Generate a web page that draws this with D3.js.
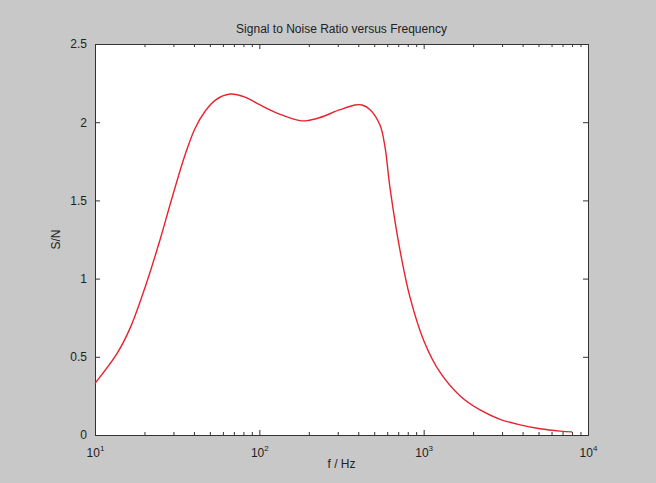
<!DOCTYPE html>
<html>
<head>
<meta charset="utf-8">
<script src="https://cdn.jsdelivr.net/npm/d3@7"></script>
<style>
  html, body { margin: 0; padding: 0; background: #c8c8c8; }
  svg { display: block; font-family: "Liberation Sans", Arial, sans-serif; }
  .axis path { stroke: #333; }
  .axis line { stroke: #333; }
  .axis text { fill: #222; font-size: 12px; }
</style>
</head>
<body>
<div id="chart"></div>
<script>
const WIDTH = 656;
const HEIGHT = 483;
const MARGIN = { top: 44, right: 68, bottom: 48, left: 95 };

// frequency (Hz) and S/N
const freq = [10, 13.6, 16.3, 20.7, 24.9, 29.5, 35.3, 40.6, 46.8, 53.8, 66.4, 81.9, 101, 134, 177, 195, 234, 310, 382, 422, 472, 543, 582, 624, 718, 826, 1005, 1259, 1667, 2205, 2917, 3863, 5108, 6760, 8000];
const snr = [0.33, 0.52, 0.68, 0.98, 1.25, 1.52, 1.79, 1.96, 2.07, 2.14, 2.18, 2.16, 2.11, 2.05, 2.01, 2.01, 2.03, 2.08, 2.11, 2.11, 2.08, 1.98, 1.84, 1.58, 1.18, 0.88, 0.60, 0.40, 0.25, 0.16, 0.10, 0.065, 0.04, 0.025, 0.02];
const yTicks = [0, 0.5, 1, 1.5, 2, 2.5];
const decades = [10, 100, 1000, 10000];

const title = "Signal to Noise Ratio versus Frequency";
const xLabel = "f / Hz";
const yLabel = "S/N";

const svg = d3.select("#chart")
    .append("svg")
    .attr("width", WIDTH)
    .attr("height", HEIGHT);

const x = d3.scaleLog()
    .domain([10, 10000])
    .range([MARGIN.left, WIDTH - MARGIN.right]);

const y = d3.scaleLinear()
    .domain([0, 2.5])
    .range([HEIGHT - MARGIN.bottom, MARGIN.top]);

const minorTicks = [];
decades.slice(0, -1).forEach(d => {
    for (let k = 2; k <= 9; k++) minorTicks.push(d * k);
});

// plot area
svg.append("rect")
    .attr("x", x.range()[0])
    .attr("y", y.range()[1])
    .attr("width", x.range()[1] - x.range()[0])
    .attr("height", y.range()[0] - y.range()[1])
    .attr("fill", "#fff");

const bottom = HEIGHT - MARGIN.bottom;
const right = WIDTH - MARGIN.right;

// minor ticks, bottom and top
svg.append("g").attr("class", "axis")
    .attr("transform", `translate(0,${bottom})`)
    .call(d3.axisBottom(x).tickValues(minorTicks).tickSize(-3).tickFormat(""))
    .call(g => g.select(".domain").remove());
svg.append("g").attr("class", "axis")
    .attr("transform", `translate(0,${MARGIN.top})`)
    .call(d3.axisTop(x).tickValues(minorTicks).tickSize(-3).tickFormat(""))
    .call(g => g.select(".domain").remove());

// major ticks
const xAxis = svg.append("g").attr("class", "axis")
    .attr("transform", `translate(0,${bottom})`)
    .call(d3.axisBottom(x).tickValues(decades).tickSize(-5).tickFormat(""));
xAxis.selectAll(".tick").append("text")
    .attr("y", 22)
    .attr("text-anchor", "middle")
    .attr("fill", "#222")
    .style("font-size", "12px")
    .each(function(d) {
        const t = d3.select(this);
        t.append("tspan").text("10");
        t.append("tspan")
            .attr("dy", -6)
            .style("font-size", "8px")
            .text(Math.round(Math.log10(d)));
    });

svg.append("g").attr("class", "axis")
    .attr("transform", `translate(0,${MARGIN.top})`)
    .call(d3.axisTop(x).tickValues(decades).tickSize(-5).tickFormat(""));

svg.append("g").attr("class", "axis")
    .attr("transform", `translate(${MARGIN.left},0)`)
    .call(d3.axisLeft(y).tickValues(yTicks).tickSize(-5).tickPadding(8).tickFormat(d3.format("")));

svg.append("g").attr("class", "axis")
    .attr("transform", `translate(${right},0)`)
    .call(d3.axisRight(y).tickValues(yTicks).tickSize(-5).tickFormat(""));

// curve
const line = d3.line()
    .x((d, i) => x(freq[i]))
    .y(d => y(d))
    .curve(d3.curveCatmullRom.alpha(0.5));

svg.append("path")
    .datum(snr)
    .attr("fill", "none")
    .attr("stroke", "#e8222e")
    .attr("stroke-width", 1.4)
    .attr("d", line);

// texts
svg.append("text")
    .attr("x", (MARGIN.left + right) / 2)
    .attr("y", 33)
    .attr("text-anchor", "middle")
    .attr("fill", "#222")
    .style("font-size", "12px")
    .text(title);

svg.append("text")
    .attr("x", (MARGIN.left + right) / 2)
    .attr("y", 468)
    .attr("text-anchor", "middle")
    .attr("fill", "#222")
    .style("font-size", "12px")
    .text(xLabel);

svg.append("text")
    .attr("transform", `translate(60,${(MARGIN.top + bottom) / 2}) rotate(-90)`)
    .attr("text-anchor", "middle")
    .attr("fill", "#222")
    .style("font-size", "12px")
    .text(yLabel);
</script>
</body>
</html>
